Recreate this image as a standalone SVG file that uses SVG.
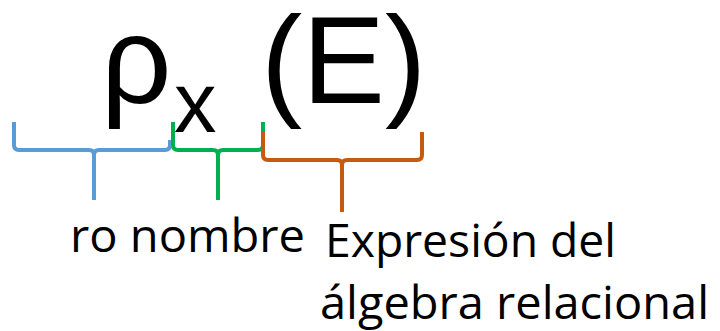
<svg xmlns="http://www.w3.org/2000/svg" width="720" height="331" viewBox="0 0 720 331">
  <style>
    .big { font-family: "Liberation Sans", Arial, sans-serif; fill: #000; }
    .lbl { font-family: "Open Sans", "Noto Sans", sans-serif; font-size: 46px; fill: #000; }
    .brace { fill: none; stroke-width: 4; stroke-linecap: butt; stroke-linejoin: round; }
  </style>
  <rect width="720" height="331" fill="#fff"/>
  <g id="formula">
    <text class="big" x="101" y="103" font-size="124">ρ</text>
    <text class="big" x="174" y="132" font-size="85">x</text>
    <text class="big" x="261" y="103" font-size="124">(E)</text>
  </g>
  <g id="connectors">
    <path class="brace" stroke="#5B9BD5" d="M14,122 V145 Q14,150 19,150 H89 Q94,150 94,155 V200 M94,155 Q94,150 99,150 H165 Q170,150 170,145 V140"/>
    <path class="brace" stroke="#00B050" d="M173,122 V145 Q173,150 178,150 H213 Q218,150 218,155 V200 M218,155 Q218,150 223,150 H258 Q263,150 263,145 V122"/>
    <path class="brace" stroke="#C55A11" d="M263,132 V155 Q263,160 268,160 H337 Q342,160 342,165 V212 M342,165 Q342,160 347,160 H417 Q422,160 422,155 V132"/>
  </g>
  <g id="label-ro-nombre">
    <text class="lbl" x="70" y="252" textLength="235" lengthAdjust="spacingAndGlyphs">ro nombre</text>
  </g>
  <g id="label-expresion">
    <text class="lbl" x="325" y="257" textLength="291" lengthAdjust="spacingAndGlyphs">Expresión del</text>
    <text class="lbl" x="320" y="319" textLength="389" lengthAdjust="spacingAndGlyphs">álgebra relacional</text>
  </g>
</svg>
